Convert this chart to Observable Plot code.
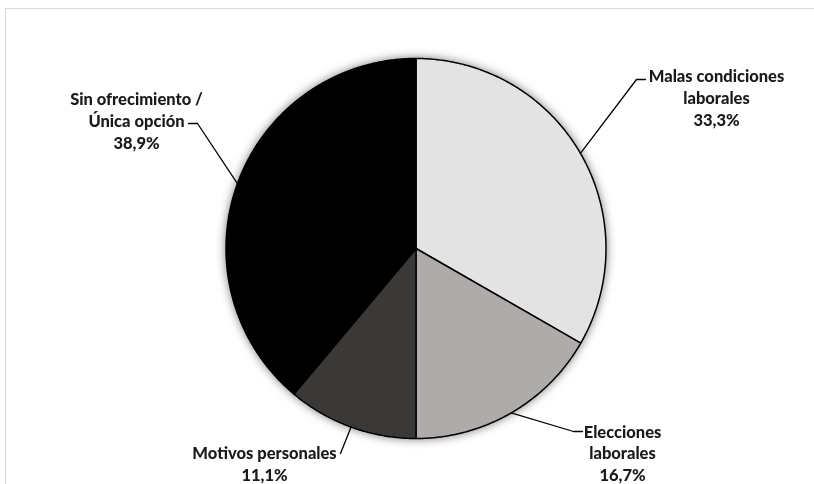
<!DOCTYPE html>
<html><head><meta charset="utf-8">
<script src="https://cdn.jsdelivr.net/npm/d3@7"></script>
<script src="https://cdn.jsdelivr.net/npm/@observablehq/plot@0.6"></script>
<style>
body{margin:0;background:#fff;}
#wrap{position:relative;width:814px;height:484px;overflow:hidden;background:#fff;}
#border{position:absolute;left:5px;top:8px;width:900px;height:600px;border:1.5px solid #d9d9d9;}
#chart{position:absolute;left:0;top:0;}
</style></head><body>
<div id="wrap"><div id="border"></div><div id="chart"></div></div>
<script>
// ---- data ----
const categories = ["Malas condiciones laborales", "Elecciones laborales", "Motivos personales", "Sin ofrecimiento / Única opción"];
const labelLines = [["Malas condiciones", "laborales"], ["Elecciones", "laborales"], ["Motivos personales"], ["Sin ofrecimiento /", "Única opción"]];
const values = [33.3, 16.7, 11.1, 38.9];
const valueLabels = ["33,3%", "16,7%", "11,1%", "38,9%"];
const colors = ["#e3e3e3", "#afabab", "#3b3838", "#000000"];

// ---- layout (pixels) ----
const W = 814, H = 484, cx = 415.5, cy = 248, R = 190;
const labelPos = [[716, 96.5], [622, 452], [264, 462.5], [136, 119.5]];
const leaderElbow = [[636, 79], [573, 431], [340, 453], [197, 123]];
const leaderEnd = [[645, 79], [582, 431], [340, 453], [188, 123]];
const ux = px => (px - cx) / R, uy = py => (py - cy) / R;

const arcs = d3.pie().sort(null).value(d => d)(values);

const sliceMarks = arcs.map((a, i) => {
  const pts = [{x: 0, y: 0}];
  const n = Math.max(8, Math.ceil((a.endAngle - a.startAngle) / (Math.PI / 360)));
  for (let k = 0; k <= n; k++) {
    const t = a.startAngle + (a.endAngle - a.startAngle) * k / n;
    pts.push({x: Math.sin(t), y: -Math.cos(t)});
  }
  return Plot.line(pts, {x: "x", y: "y", curve: "linear-closed", fill: colors[i], stroke: "#000", strokeWidth: 1.5, strokeLinejoin: "round"});
});

const leaderMarks = arcs.map((a, i) => {
  const m = (a.startAngle + a.endAngle) / 2;
  const pts = [
    {x: Math.sin(m), y: -Math.cos(m)},
    {x: ux(leaderElbow[i][0]), y: uy(leaderElbow[i][1])},
    {x: ux(leaderEnd[i][0]), y: uy(leaderEnd[i][1])}
  ];
  return Plot.line(pts, {x: "x", y: "y", stroke: "#000", strokeWidth: 1.3});
});

const labels = categories.map((c, i) => ({
  x: ux(labelPos[i][0]), y: uy(labelPos[i][1]),
  text: [...labelLines[i], valueLabels[i]].join("\n")
}));

const chart = Plot.plot({
  width: W, height: H,
  margin: 0,
  style: {fontFamily: "Lato, 'Open Sans', sans-serif", background: "transparent"},
  x: {domain: [ux(0), ux(W)], range: [0, W], axis: null},
  y: {domain: [uy(0), uy(H)], range: [0, H], axis: null},
  marks: [
    ...sliceMarks,
    ...leaderMarks,
    Plot.text(labels, {x: "x", y: "y", text: "text", fontSize: 16.5, fontWeight: 900, lineHeight: 1.32, lineAnchor: "middle", textAnchor: "middle", fill: "#1a1a1a"})
  ]
});

// soft shadow around the pie
try {
  const svg = chart.tagName.toLowerCase() === "svg" ? chart : chart.querySelector("svg");
  const groups = Array.from(svg.children).filter(n => n.tagName.toLowerCase() === "g").slice(0, categories.length);
  if (groups.length) {
    const g = document.createElementNS("http://www.w3.org/2000/svg", "g");
    g.setAttribute("style", "filter: drop-shadow(0px 0px 5px rgba(0,0,0,0.5))");
    svg.insertBefore(g, groups[0]);
    groups.forEach(s => g.appendChild(s));
  }
} catch (e) { console.error(e); }

document.getElementById("chart").appendChild(chart);
</script>
</body></html>
